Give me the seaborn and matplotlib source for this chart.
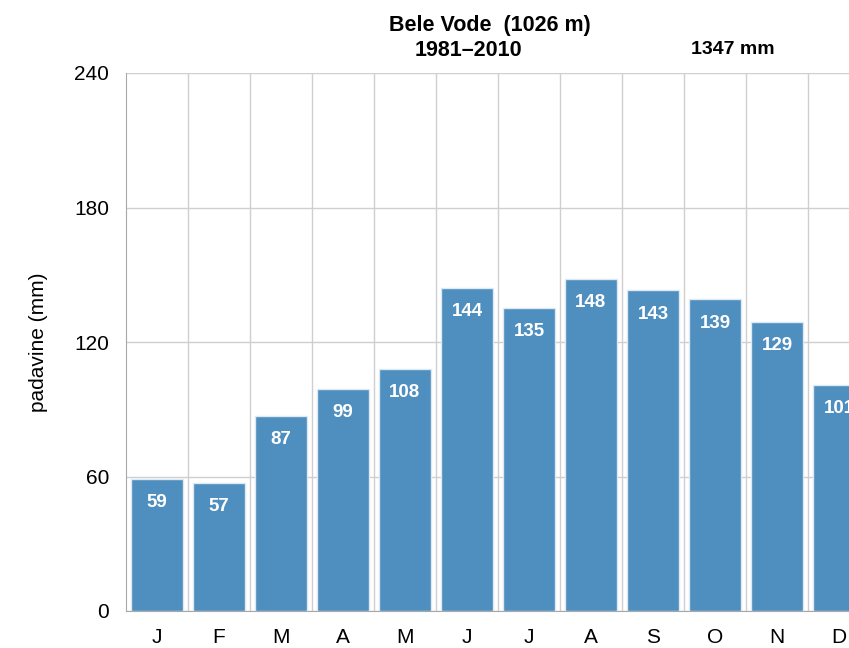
import numpy as np
import pandas as pd
import matplotlib
matplotlib.use("Agg")
import matplotlib.pyplot as plt
import seaborn as sns

sns.set_style("white")
plt.rcParams['font.family'] = ['Liberation Sans', 'DejaVu Sans']
plt.rcParams['text.color'] = 'black'
plt.rcParams['axes.labelcolor'] = 'black'
plt.rcParams['xtick.color'] = 'black'
plt.rcParams['ytick.color'] = 'black'

months = ['J', 'F', 'M', 'A', 'M', 'J', 'J', 'A', 'S', 'O', 'N', 'D']
precip = [59, 57, 87, 99, 108, 144, 135, 148, 143, 139, 129, 101]
df = pd.DataFrame({'idx': range(12), 'mm': precip})

fig = plt.figure(figsize=(8.49, 6.48), dpi=100)
# axes runs past the right edge of the figure, as in the reference
ax = fig.add_axes([126 / 849, 1 - 611 / 648, 744 / 849, 538 / 648])

sns.barplot(data=df, x='idx', y='mm', color='#4f8fbf', saturation=1,
            width=0.84, edgecolor='#dce8f2', linewidth=1, ax=ax, zorder=3)

ax.set_xlim(-0.5, 11.5)
ax.set_ylim(0, 240)
ax.set_yticks([0, 60, 120, 180, 240])
ax.set_xticks(range(12))
ax.set_xticklabels(months)
ax.set_xticks(np.arange(0.5, 12, 1), minor=True)
ax.grid(axis='y', which='major', color='#cfcfcf', linewidth=1, zorder=0)
ax.grid(axis='x', which='minor', color='#cfcfcf', linewidth=1, zorder=0)
ax.tick_params(axis='y', which='major', length=8, color='#a0a0a0', width=1,
               labelcolor='black', labelsize=15, pad=4)
ax.tick_params(axis='x', which='both', length=0, labelcolor='black',
               labelsize=15, pad=12)
ax.set_xlabel('')
ax.set_ylabel('padavine (mm)', fontsize=15, labelpad=19)

for side in ['top', 'right']:
    ax.spines[side].set_visible(False)
ax.spines['left'].set_color('#a8a8a8')
ax.spines['bottom'].set_color('#a8a8a8')

for i, v in enumerate(precip):
    ax.annotate(str(v), (i, v), xytext=(0, -17), textcoords='offset points',
                ha='center', va='center', color='white', fontsize=13.5,
                fontweight='bold', zorder=5)

fig.text(490 / 849, 1 - 25 / 648, 'Bele Vode  (1026 m)', ha='center', va='center',
         fontsize=15.5, fontweight='bold')
fig.text(468 / 849, 1 - 50 / 648, '1981–2010', ha='center', va='center',
         fontsize=15.5, fontweight='bold')
fig.text(733 / 849, 1 - 50 / 648, '1347 mm', ha='center', va='center',
         fontsize=14, fontweight='bold')

fig.savefig('out.png', dpi=100)
